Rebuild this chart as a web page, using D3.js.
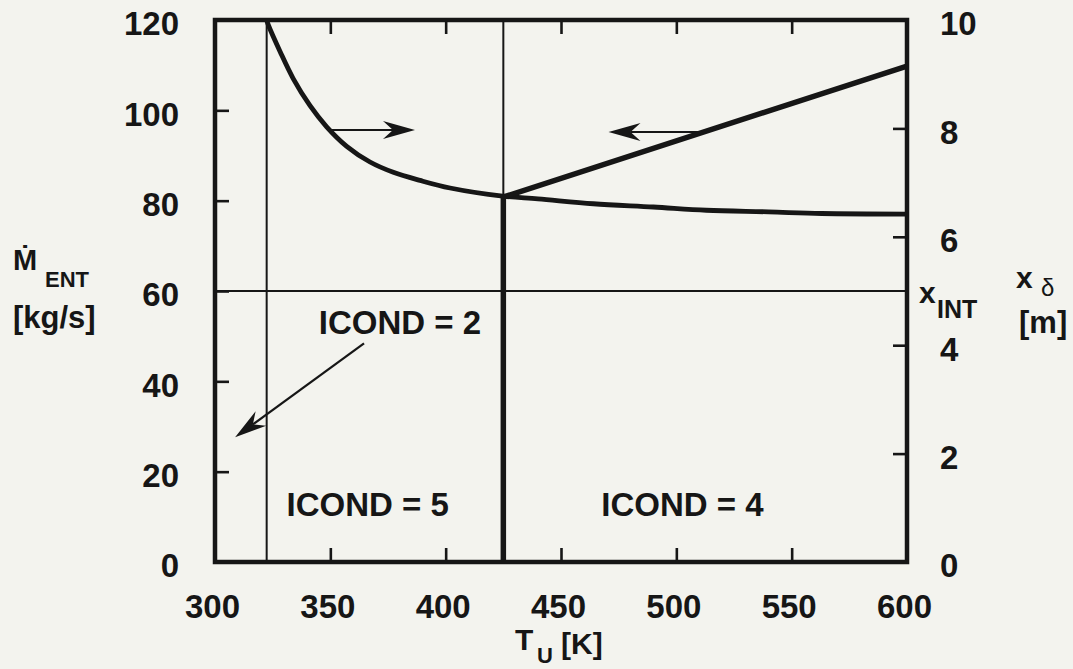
<!DOCTYPE html>
<html><head><meta charset="utf-8">
<script src="https://cdn.jsdelivr.net/npm/d3@7"></script>
<style>
html,body{margin:0;padding:0;background:#f3f3ee;}
svg text{font-family:"Liberation Sans",Arial,Helvetica,sans-serif;font-weight:bold;fill:#161616;}
</style></head>
<body>
<svg id="chart" width="1073" height="669"></svg>
<script>
// ---- data ----
const xTicks = [300, 350, 400, 450, 500, 550, 600];
const yLeftTicks = [0, 20, 40, 60, 80, 100, 120];
const yRightTicks = [0, 2, 4, 6, 8, 10];
// x_INT curve (right axis, m) vs T_U (K)
const xIntT = [322.4, 323.1, 328.2, 333.9, 341.2, 348.4, 357.1, 367.2, 377.3, 388.9, 401.9, 424.7, 440, 464, 490, 513, 540, 563, 600];
const xIntV = [10, 9.91, 9.42, 8.92, 8.42, 8.03, 7.67, 7.38, 7.19, 7.04, 6.90, 6.75, 6.70, 6.61, 6.55, 6.49, 6.46, 6.43, 6.42];
// M_ENT (left axis, kg/s) vs T_U (K)
const mEntT = [425, 425, 600];
const mEntV = [0, 80.8, 109.8];
// ICOND region boundaries (T_U) and horizontal reference (M_ENT)
const boundaryT = [322.4, 425];
const refM = 60;
// annotations: [T, value, axis]
const arrowRight = {from: [349.9, 7.97], to: [386.7, 7.97], axis: "R"};
const arrowLeft = {from: [511.5, 95.2], to: [470.6, 95.2], axis: "L"};
const arrowIcond2 = {from: [364.6, 48.4], to: [308.7, 27.6], axis: "L"};
const labels = [
  {text: "ICOND = 2", T: 345.0, M: 50.5},
  {text: "ICOND = 5", T: 331.0, M: 10.2},
  {text: "ICOND = 4", T: 467.5, M: 10.2}
];

// ---- layout ----
const svg = d3.select("#chart");
const W = 1073, H = 669;
const L = 215, R = 907, T = 20, B = 562;
const ink = "#161616";
svg.append("rect").attr("width", W).attr("height", H).attr("fill", "#f3f3ee");

const x = d3.scaleLinear().domain([300, 600]).range([L, R]);
const yL = d3.scaleLinear().domain([0, 120]).range([B, T]);
const yR = d3.scaleLinear().domain([0, 10]).range([B, T]);

svg.append("defs").append("clipPath").attr("id", "clip")
  .append("rect").attr("x", L).attr("y", T).attr("width", R - L).attr("height", B - T);

const plot = svg.append("g").attr("clip-path", "url(#clip)");

// thin boundary lines
boundaryT.forEach(t => {
  plot.append("line").attr("x1", x(t)).attr("x2", x(t)).attr("y1", yL(120)).attr("y2", yL(0))
    .attr("stroke", ink).attr("stroke-width", 2);
});
plot.append("line").attr("x1", x(300)).attr("x2", x(600)).attr("y1", yL(refM)).attr("y2", yL(refM))
  .attr("stroke", ink).attr("stroke-width", 2);

// x_INT curve
const lineR = d3.line().x((d, i) => x(xIntT[i])).y(d => yR(d)).curve(d3.curveCatmullRom.alpha(0.5));
plot.append("path").attr("d", lineR(xIntV)).attr("fill", "none").attr("stroke", ink)
  .attr("stroke-width", 4.8).attr("stroke-linejoin", "round");

// M_ENT line
const lineL = d3.line().x((d, i) => x(mEntT[i])).y(d => yL(d));
plot.append("path").attr("d", lineL(mEntV)).attr("fill", "none").attr("stroke", ink)
  .attr("stroke-width", 5.5).attr("stroke-linejoin", "miter");

// frame
svg.append("rect").attr("x", L).attr("y", T).attr("width", R - L).attr("height", B - T)
  .attr("fill", "none").attr("stroke", ink).attr("stroke-width", 4.5);

// inward ticks
const inner = xTicks.slice(1, -1);
function tickAxis(g) { g.select(".domain").remove(); g.selectAll("line").attr("stroke", ink).attr("stroke-width", 2.6); }
svg.append("g").attr("transform", `translate(0,${B})`)
  .call(d3.axisBottom(x).tickValues(inner).tickSize(-14).tickFormat("")).call(tickAxis);
svg.append("g").attr("transform", `translate(0,${T})`)
  .call(d3.axisTop(x).tickValues(inner).tickSize(-14).tickFormat("")).call(tickAxis);
svg.append("g").attr("transform", `translate(${L},0)`)
  .call(d3.axisLeft(yL).tickValues(yLeftTicks.slice(1, -1)).tickSize(-14).tickFormat("")).call(tickAxis);
svg.append("g").attr("transform", `translate(${R},0)`)
  .call(d3.axisRight(yR).tickValues(yRightTicks.slice(1, -1)).tickSize(-14).tickFormat("")).call(tickAxis);

// tick labels
function labelAxis(g) { g.select(".domain").remove(); g.selectAll("line").remove();
  g.selectAll("text").style("font-size", "33px").style("font-family", "'Liberation Sans',Arial,sans-serif")
   .style("font-weight", "bold").attr("fill", ink); }
svg.append("g").attr("transform", `translate(0,${B})`)
  .call(d3.axisBottom(x).tickValues(xTicks).tickSize(0).tickPadding(33).tickFormat(d3.format("d")))
  .call(labelAxis).selectAll("text").attr("dx", -3);
svg.append("g").attr("transform", `translate(${L},0)`)
  .call(d3.axisLeft(yL).tickValues(yLeftTicks).tickSize(0).tickPadding(36).tickFormat(d3.format("d")))
  .call(labelAxis).selectAll("text").attr("dy", "0.45em");
svg.append("g").attr("transform", `translate(${R},0)`)
  .call(d3.axisRight(yR).tickValues(yRightTicks).tickSize(0).tickPadding(33).tickFormat(d3.format("d")))
  .call(labelAxis).selectAll("text").attr("dy", "0.45em");

// arrows
function arrow(a, sw) {
  const ys = a.axis === "R" ? yR : yL;
  const x1 = x(a.from[0]), y1 = ys(a.from[1]), x2 = x(a.to[0]), y2 = ys(a.to[1]);
  const ang = Math.atan2(y2 - y1, x2 - x1);
  const len = 32, hw = 9, notch = 22;
  const ux = Math.cos(ang), uy = Math.sin(ang), px = -uy, py = ux;
  svg.append("line").attr("x1", x1).attr("y1", y1).attr("x2", x2 - ux * notch).attr("y2", y2 - uy * notch)
    .attr("stroke", ink).attr("stroke-width", sw);
  const pts = [[x2, y2], [x2 - ux * len + px * hw, y2 - uy * len + py * hw], [x2 - ux * notch, y2 - uy * notch],
    [x2 - ux * len - px * hw, y2 - uy * len - py * hw]];
  svg.append("path").attr("d", "M" + pts.map(p => p.join(",")).join("L") + "Z").attr("fill", ink);
}
arrow(arrowRight, 2);
arrow(arrowLeft, 2);
arrow(arrowIcond2, 2.2);

// region labels
labels.forEach(l => {
  svg.append("text").attr("x", x(l.T)).attr("y", yL(l.M)).style("font-size", "33px").text(l.text);
});

// axis titles
const tl = svg.append("text").attr("y", 270);
tl.append("tspan").attr("x", 13).style("font-size", "29px").text("Ṁ");
tl.append("tspan").attr("x", 45).attr("dy", 17).style("font-size", "22px").text("ENT");
svg.append("text").attr("x", 13).attr("y", 328).style("font-size", "31px").text("[kg/s]");

const tr1 = svg.append("text").attr("y", 303);
tr1.append("tspan").attr("x", 919).style("font-size", "30px").text("x");
tr1.append("tspan").attr("x", 937).attr("dy", 15).style("font-size", "25px").text("INT");
const tr2 = svg.append("text").attr("y", 288);
tr2.append("tspan").attr("x", 1016).style("font-size", "30px").text("x");
tr2.append("tspan").attr("x", 1041).attr("dy", 8).style("font-size", "24px").style("font-weight", "normal").text("δ");
svg.append("text").attr("x", 1019).attr("y", 333).style("font-size", "31px").text("[m]");

const tb = svg.append("text").attr("y", 650);
tb.append("tspan").attr("x", 515).style("font-size", "30px").text("T");
tb.append("tspan").attr("x", 537).attr("dy", 13).style("font-size", "22px").text("U");
svg.append("text").attr("x", 561).attr("y", 654).style("font-size", "30px").text("[K]");
</script>
</body></html>
